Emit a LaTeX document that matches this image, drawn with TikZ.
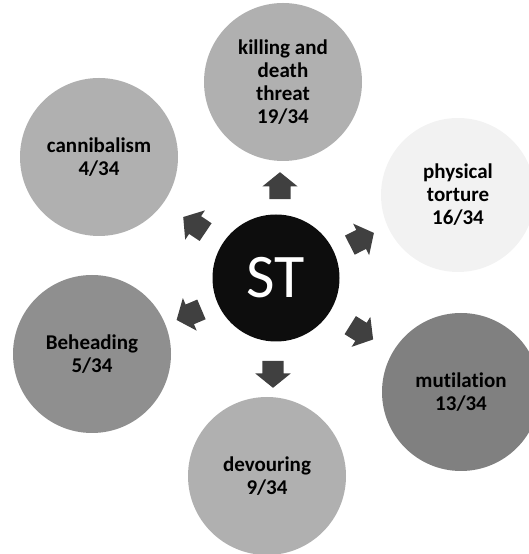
\documentclass[tikz,border=0pt]{standalone}
\usepackage{fontspec}
\setmainfont{Carlito}[Ligatures=NoCommon]
\usetikzlibrary{shapes.arrows}
\usepackage{tkz-euclide}
\definecolor{MidClr}{rgb}{0.69,0.69,0.69}
\definecolor{DarkClr}{rgb}{0.56,0.56,0.56}
\definecolor{DeepClr}{rgb}{0.50,0.50,0.50}
\definecolor{PaleClr}{rgb}{0.95,0.95,0.95}
\definecolor{ArrowClr}{rgb}{0.25,0.25,0.25}
\definecolor{CoreClr}{rgb}{0.05,0.05,0.05}

\begin{document}
\begin{tikzpicture}[x=1pt,y=1pt,
  bubble/.style={circle,minimum size=158pt,inner sep=0pt,align=center,
    font=\fontsize{21}{23}\selectfont\bfseries},
  pointer/.style={single arrow,fill=ArrowClr,inner xsep=0pt,inner ysep=10.5pt,
    minimum height=27pt,single arrow head extend=7pt,
    single arrow tip angle=102,single arrow head indent=0pt}]

\tkzDefPoints{0/0/SW,528/554/NE}
\path[use as bounding box] (SW) rectangle (NE);

\tkzDefPoints{276/276/S,283/472/K,458/359/P,461/162/M,267/78/D,92/200/B,99/397/C}
\tkzDefPoints{280/364/aK,358/313/aP,358/224/aM,273/184/aD,193/241/aB,198/327/aC}

\node[circle,fill=CoreClr,minimum size=127pt,text=white,
  font=\fontsize{62}{62}\selectfont] (st) at (S) {ST};

\node[bubble,fill=MidClr] (kill) at (K) {killing and\\death\\threat\\19/34};
\node[bubble,fill=PaleClr,minimum size=154pt] (phys) at (P) {physical\\torture\\16/34};
\node[bubble,fill=DeepClr] (mut) at (M) {mutilation\\13/34};
\node[bubble,fill=MidClr] (dev) at (D) {devouring\\9/34};
\node[bubble,fill=DarkClr] (beh) at (B) {Beheading\\5/34};
\node[bubble,fill=MidClr] (can) at (C) {cannibalism\\4/34};

% arrows round the core
\node[pointer,rotate=90] (toKill) at (aK) {};
\node[pointer,rotate=27] (toPhys) at (aP) {};
\node[pointer,rotate=-32] (toMut) at (aM) {};
\node[pointer,rotate=-90] (toDev) at (aD) {};
\node[pointer,rotate=203] (toBeh) at (aB) {};
\node[pointer,rotate=146] (toCan) at (aC) {};

\end{tikzpicture}
\end{document}
